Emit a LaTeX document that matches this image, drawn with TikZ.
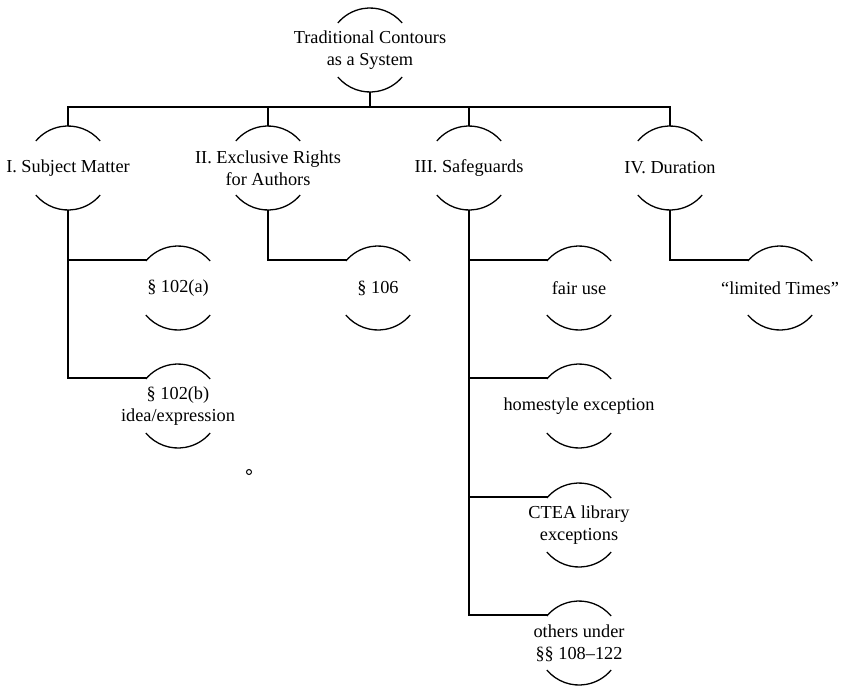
\documentclass[tikz,border=0pt]{standalone}
\usepackage{fontspec}
\setmainfont{Liberation Serif}
\begin{document}
\begin{tikzpicture}[x=1pt,y=-1pt,
  hub/.style={circle,minimum size=84pt,inner sep=0pt,outer sep=0pt},
  txt/.style={align=center,inner sep=0pt,font=\fontsize{18.3}{22}\selectfont},
  wire/.style={line width=1.3pt,line join=miter},
  rim/.style={line width=1.3pt}]
\useasboundingbox (0,0) rectangle (845,686);

% root
\node[hub,label={[txt]center:Traditional Contours\\as a System}] (top) at (370,50) {};

% first level
\node[hub,label={[txt]center:I. Subject Matter}] (s1) at (68,168) {};
\node[hub,label={[txt]center:II. Exclusive Rights\\for Authors}] (s2) at (268,168) {};
\node[hub,label={[txt]center:III. Safeguards}] (s3) at (469,168) {};
\node[hub,label={[txt]center:IV. Duration}] (s4) at (670,168) {};

% second level
\node[hub,label={[txt]center:§ 102(a)}] (a1) at (178,288) {};
\node[hub,label={[txt]center:§ 102(b)\\idea/expression}] (a2) at (178,406) {};
\node[hub,label={[txt]center:§ 106}] (b1) at (378,288) {};
\node[hub,label={[txt]center:fair use}] (c1) at (579,288) {};
\node[hub,label={[txt]center:homestyle exception}] (c2) at (579,406) {};
\node[hub,label={[txt]center:CTEA library\\exceptions}] (c3) at (579,525) {};
\node[hub,label={[txt]center:others under\\§§ 108–122}] (c4) at (579,643) {};
\node[hub,label={[txt]center:“limited Times”}] (d1) at (780,288) {};

% open rims: an arc above and below each label
\foreach \n in {top,s1,s2,s3,s4,a1,a2,b1,c1,c2,c3,c4,d1}{
  \draw[rim] (\n.40) arc[start angle=40,end angle=140,radius=42pt];
  \draw[rim] (\n.220) arc[start angle=220,end angle=320,radius=42pt];
}

% bus joining the first level
\coordinate (bus) at (0,107);
\draw[wire] (top.south) -- (top.south |- bus);
\draw[wire] (s1.north) -- (s1.north |- bus) -- (s4.north |- bus) -- (s4.north);
\draw[wire] (s2.north) -- (s2.north |- bus);
\draw[wire] (s3.north) -- (s3.north |- bus);

% branches to the second level
\draw[wire] (s1.south) |- (a2.138);
\draw[wire] (a1.138) -- (a1.138 -| s1.south);
\draw[wire] (s2.south) |- (b1.138);
\draw[wire] (s3.south) |- (c4.138);
\draw[wire] (c1.138) -- (c1.138 -| s3.south);
\draw[wire] (c2.138) -- (c2.138 -| s3.south);
\draw[wire] (c3.138) -- (c3.138 -| s3.south);
\draw[wire] (s4.south) |- (d1.138);

% small ring mark
\draw[line width=1pt] (249,472) circle[radius=2.5pt];
\end{tikzpicture}
\end{document}
